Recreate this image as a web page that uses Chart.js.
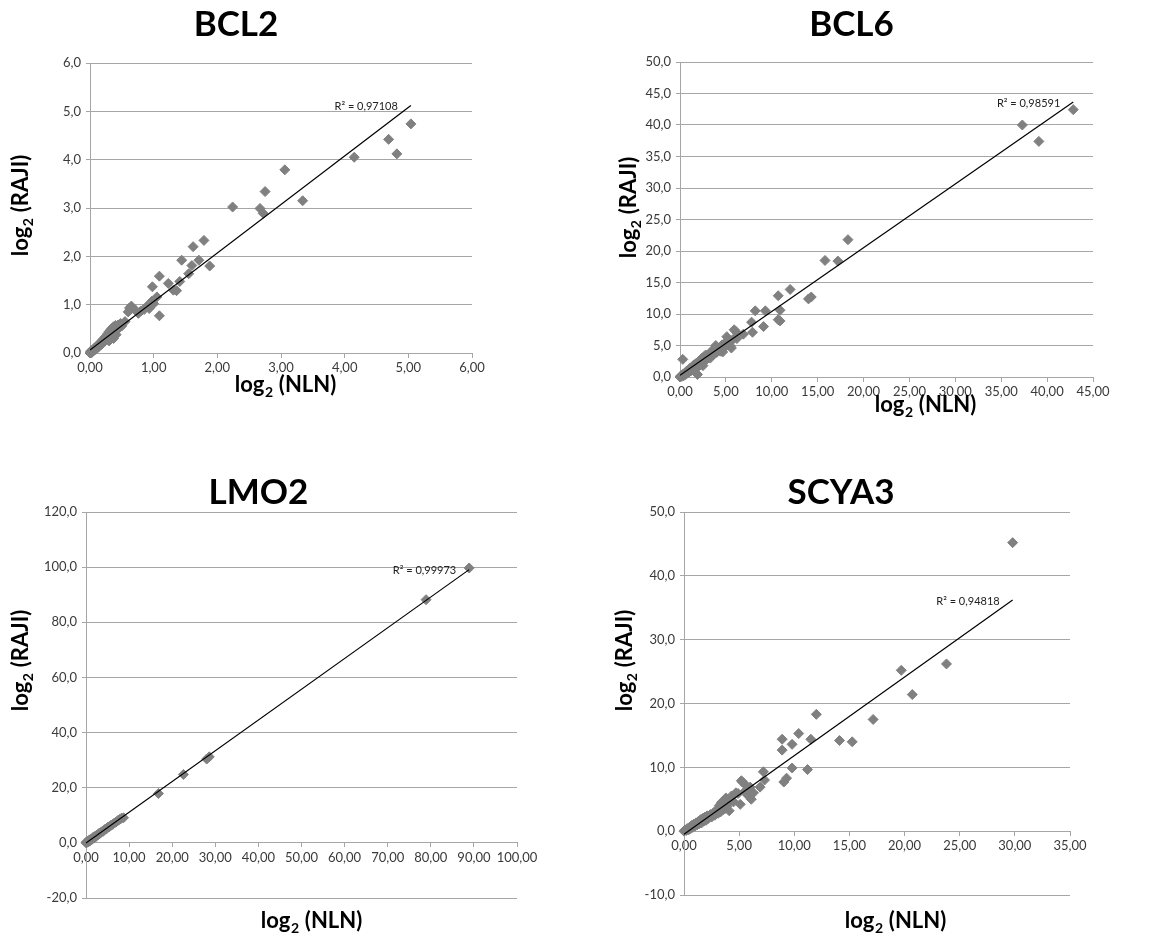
<!DOCTYPE html>
<html>
<head>
<meta charset="utf-8">
<script src="https://cdn.jsdelivr.net/npm/chart.js@4/dist/chart.umd.min.js"></script>
<style>
html,body{margin:0;padding:0;background:#fff;overflow:hidden;width:1164px;height:940px;position:relative;}
canvas{position:absolute;}
</style>
</head>
<body>
<canvas id="cBCL2"></canvas>
<canvas id="cBCL6"></canvas>
<canvas id="cLMO2"></canvas>
<canvas id="cSCYA3"></canvas>
<script>
// ---------- DATA ----------
const bcl2X = [0.00,0.01,0.02,0.02,0.03,0.04,0.05,0.06,0.07,0.08,0.09,0.10,0.11,0.12,0.13,0.14,0.15,0.16,0.17,0.18,0.19,0.20,0.21,0.22,0.23,0.24,0.25,0.26,0.27,0.28,0.29,0.30,0.31,0.32,0.33,0.34,0.35,0.36,0.37,0.38,0.39,0.40,0.42,0.44,0.46,0.48,0.50,0.30,0.34,0.41,
  0.55,0.60,0.62,0.65,0.72,0.76,0.80,0.85,0.89,0.93,0.97,0.98,1.00,1.05,1.09,1.09,1.23,1.31,1.36,1.41,1.44,1.55,1.60,1.62,1.71,1.79,1.88,2.24,2.67,2.72,2.75,3.06,3.34,4.15,4.69,4.82,5.04];
const bcl2Y = [0.00,0.03,0.00,0.05,0.02,0.06,0.04,0.09,0.06,0.11,0.08,0.13,0.10,0.16,0.12,0.19,0.15,0.21,0.17,0.24,0.19,0.27,0.22,0.30,0.24,0.33,0.27,0.36,0.29,0.40,0.32,0.44,0.35,0.47,0.38,0.50,0.41,0.53,0.30,0.55,0.44,0.57,0.48,0.58,0.52,0.61,0.56,0.25,0.32,0.38,
  0.65,0.85,0.93,0.97,0.88,0.82,0.87,0.90,0.96,0.92,1.07,1.37,1.02,1.16,1.59,0.77,1.44,1.30,1.29,1.48,1.92,1.64,1.81,2.20,1.92,2.33,1.80,3.02,2.99,2.89,3.34,3.79,3.15,4.05,4.42,4.12,4.74];
const bcl2TrendX = [0, 5.04];
const bcl2TrendY = [0.06, 5.12];
const bcl2XTicks = ['0,00','1,00','2,00','3,00','4,00','5,00','6,00'];
const bcl2YTicks = ['0,0','1,0','2,0','3,0','4,0','5,0','6,0'];

const bcl6X = [0.0,0.1,0.2,0.3,0.3,0.4,0.5,0.6,0.7,0.8,0.9,1.0,1.1,1.2,1.3,1.4,1.5,1.6,1.7,1.8,1.9,2.0,2.1,2.2,2.3,2.4,2.5,2.6,2.7,2.8,2.9,3.0,3.2,3.3,3.5,3.6,3.8,3.9,4.0,4.2,4.4,4.6,4.65,4.8,5.0,5.1,5.3,5.5,5.6,5.8,5.9,6.1,6.2,6.9,7.8,7.9,8.2,9.1,9.3,10.7,10.7,10.9,10.9,12.0,14.0,14.3,15.8,17.2,18.3,37.3,39.1,42.85];
const bcl6Y = [0.0,0.2,0.1,0.4,2.8,0.2,0.6,0.4,0.9,0.6,1.1,0.8,1.4,1.0,1.6,1.2,1.9,1.4,2.1,1.6,0.4,2.4,1.8,2.7,2.1,3.0,1.8,3.2,2.5,3.5,2.8,3.3,3.7,3.0,4.2,3.5,4.6,5.0,3.9,4.5,4.1,5.1,3.97,4.6,5.5,6.4,5.6,4.9,4.6,6.0,7.5,7.2,6.1,6.8,8.7,7.1,10.5,8.0,10.5,12.9,9.1,8.9,10.6,13.9,12.4,12.7,18.5,18.4,21.8,40.0,37.4,42.44];
const bcl6TrendX = [0, 42.85];
const bcl6TrendY = [0.27, 43.65];
const bcl6XTicks = ['0,00','5,00','10,00','15,00','20,00','25,00','30,00','35,00','40,00','45,00'];
const bcl6YTicks = ['0,0','5,0','10,0','15,0','20,0','25,0','30,0','35,0','40,0','45,0','50,0'];

const lmo2X = [0.0,0.1,0.2,0.3,0.4,0.5,0.6,0.7,0.8,0.9,1.0,1.2,1.4,1.6,1.8,2.0,2.2,2.5,2.8,3.0,3.3,3.6,4.0,4.3,4.7,5.0,5.4,5.8,6.2,6.6,7.0,7.4,7.8,8.2,8.7,16.8,22.6,28.0,28.6,78.9,88.9];
const lmo2Y = [0.0,0.3,0.1,0.5,0.3,0.7,0.5,0.9,0.6,1.1,0.9,1.4,1.3,1.9,1.7,2.3,2.1,2.8,2.9,3.4,3.5,4.0,4.2,4.8,5.0,5.6,5.8,6.4,6.7,7.2,7.6,8.1,8.5,8.9,9.1,17.9,24.8,30.4,31.2,88.2,99.7];
const lmo2TrendX = [0, 88.9];
const lmo2TrendY = [-0.03, 99.1];
const lmo2XTicks = ['0,00','10,00','20,00','30,00','40,00','50,00','60,00','70,00','80,00','90,00','100,00'];
const lmo2YTicks = ['-20,0','0,0','20,0','40,0','60,0','80,0','100,0','120,0'];

const scya3X = [0.0,0.1,0.2,0.3,0.4,0.5,0.6,0.7,0.8,0.9,1.0,1.1,1.2,1.3,1.4,1.5,1.6,1.7,1.8,1.9,2.0,2.1,2.2,2.4,2.5,2.7,2.8,3.0,3.1,3.2,3.3,3.4,3.5,3.6,3.7,3.8,3.9,4.0,4.1,4.3,4.5,4.7,4.9,5.1,5.2,5.3,5.5,5.6,5.8,6.0,6.1,6.3,6.9,7.2,7.3,8.9,8.9,9.05,9.3,9.8,9.8,10.4,11.2,11.5,12.0,14.1,15.25,17.15,19.7,20.7,23.8,29.8];
const scya3Y = [0.0,0.2,0.1,0.4,0.2,0.6,0.4,0.9,0.6,1.1,0.8,1.3,1.0,1.5,1.2,1.8,1.3,2.0,1.6,2.2,1.7,2.4,2.0,2.6,2.2,2.9,2.5,3.4,2.8,4.0,3.0,4.5,3.3,4.8,3.5,5.2,3.9,4.4,3.2,5.5,4.6,6.0,5.9,4.2,7.9,7.7,6.2,7.2,5.6,6.9,5.0,6.0,6.9,9.3,8.0,14.4,12.7,7.7,8.3,13.6,9.9,15.3,9.65,14.4,18.3,14.2,14.0,17.5,25.2,21.4,26.2,45.2];
const scya3TrendX = [0, 29.8];
const scya3TrendY = [-0.5, 36.2];
const scya3XTicks = ['0,00','5,00','10,00','15,00','20,00','25,00','30,00','35,00'];
const scya3YTicks = ['-10,0','0,0','10,0','20,0','30,0','40,0','50,0'];

const titles = ['BCL2','BCL6','LMO2','SCYA3'];
const r2Labels = ['R² = 0,97108','R² = 0,98591','R² = 0,99973','R² = 0,94818'];

// ---------- LAYOUT ----------
const panels = [
  {id:'cBCL2', title:titles[0], xs:bcl2X, ys:bcl2Y, tx:bcl2TrendX, ty:bcl2TrendY, r2:r2Labels[0], xTicks:bcl2XTicks, yTicks:bcl2YTicks,
   canvas:{left:0,top:0,w:596,h:410}, area:{l:90,t:63,r:472,b:353}, titleCY:25, yTitle:{x:21,y:206}, xTitle:{x:285,y:385}},
  {id:'cBCL6', title:titles[1], xs:bcl6X, ys:bcl6Y, tx:bcl6TrendX, ty:bcl6TrendY, r2:r2Labels[1], xTicks:bcl6XTicks, yTicks:bcl6YTicks,
   canvas:{left:610,top:0,w:546,h:420}, area:{l:680,t:62,r:1093,b:377}, titleCY:25, yTitle:{x:629,y:208}, xTitle:{x:925,y:405}},
  {id:'cLMO2', title:titles[2], xs:lmo2X, ys:lmo2Y, tx:lmo2TrendX, ty:lmo2TrendY, r2:r2Labels[2], xTicks:lmo2XTicks, yTicks:lmo2YTicks,
   canvas:{left:0,top:468,w:600,h:472}, area:{l:86,t:512,r:517,b:898}, titleCY:493, yTitle:{x:21,y:661}, xTitle:{x:311,y:921}},
  {id:'cSCYA3', title:titles[3], xs:scya3X, ys:scya3Y, tx:scya3TrendX, ty:scya3TrendY, r2:r2Labels[3], xTicks:scya3XTicks, yTicks:scya3YTicks,
   canvas:{left:612,top:468,w:576,h:472}, area:{l:684,t:512,r:1070,b:895}, titleCY:493, yTitle:{x:625,y:661}, xTitle:{x:895,y:921}}
];

const GRID = '#a6a6a6';
const TICKCOL = '#3a3a3a';
const FONT = 'Lato, "Open Sans", sans-serif';

function parseLabel(s){ return parseFloat(s.replace(',', '.')); }

function drawSubTitle(ctx, cx, cy, rot, a, sub, b) {
  ctx.save();
  ctx.translate(cx, cy);
  ctx.rotate(rot);
  const big = 'bold 22px ' + FONT, small = 'bold 14px ' + FONT;
  ctx.font = big; const wa = ctx.measureText(a).width; const wb = ctx.measureText(b).width;
  ctx.font = small; const ws = ctx.measureText(sub).width;
  let x = -(wa + ws + wb) / 2;
  const base = 7;
  ctx.textAlign = 'left'; ctx.textBaseline = 'alphabetic'; ctx.fillStyle = '#000';
  ctx.font = big; ctx.fillText(a, x, base); x += wa;
  ctx.font = small; ctx.fillText(sub, x + 0.5, base + 5); x += ws + 1;
  ctx.font = big; ctx.fillText(b, x, base);
  ctx.restore();
}

const panelText = {
  id: 'panelText',
  afterDraw(chart, args, opts) {
    const p = opts.panel;
    if (!p) return;
    const ctx = chart.ctx;
    const ox = p.canvas.left, oy = p.canvas.top;
    const meta = chart.getDatasetMeta(0);
    const last = meta.data[meta.data.length - 1];
    ctx.save();
    ctx.font = '11px ' + FONT;
    ctx.fillStyle = '#222';
    ctx.textAlign = 'right';
    ctx.textBaseline = 'middle';
    ctx.fillText(p.r2, last.x - 13, last.y + 1);
    ctx.restore();
    drawSubTitle(ctx, p.xTitle.x - ox, p.xTitle.y - oy, 0, 'log', '2', ' (NLN)');
    drawSubTitle(ctx, p.yTitle.x - ox, p.yTitle.y - oy, -Math.PI / 2, 'log', '2', ' (RAJI)');
  }
};

function makeChart(p) {
  const cv = document.getElementById(p.id);
  cv.width = p.canvas.w; cv.height = p.canvas.h;
  cv.style.left = p.canvas.left + 'px'; cv.style.top = p.canvas.top + 'px';
  cv.style.width = p.canvas.w + 'px'; cv.style.height = p.canvas.h + 'px';
  const xt = p.xTicks.map(parseLabel), yt = p.yTicks.map(parseLabel);
  const titleH = 35;
  const padTop = p.titleCY - p.canvas.top - titleH / 2;
  const padBottom = (p.area.t - p.canvas.top) - padTop - titleH;
  const tickFont = {family: FONT, size: 13};
  new Chart(cv, {
    type: 'scatter',
    data: {
      datasets: [
        {data: p.tx.map((x, i) => ({x: x, y: p.ty[i]})), showLine: true, borderColor: '#000', borderWidth: 1.2,
         pointRadius: 0, pointHoverRadius: 0, fill: false, tension: 0},
        {data: p.xs.map((x, i) => ({x: x, y: p.ys[i]})), pointStyle: 'rectRot', pointRadius: 5, pointHoverRadius: 5,
         backgroundColor: '#808080', borderColor: '#808080', borderWidth: 1, clip: false}
      ]
    },
    options: {
      responsive: false, animation: false, devicePixelRatio: 1,
      events: [],
      layout: {padding: {left: 0, top: 0,
        right: p.canvas.left + p.canvas.w - p.area.r,
        bottom: p.canvas.top + p.canvas.h - p.area.b}},
      plugins: {
        legend: {display: false},
        tooltip: {enabled: false},
        title: {display: true, text: p.title, color: '#000',
          font: {family: FONT, weight: 'bold', size: 35, lineHeight: 1},
          padding: {top: padTop, bottom: padBottom}},
        panelText: {panel: p}
      },
      scales: {
        x: {
          type: 'linear', position: {y: 0}, min: xt[0], max: xt[xt.length - 1],
          afterBuildTicks: s => { s.ticks = xt.map(v => ({value: v})); },
          ticks: {callback: (v, i) => p.xTicks[i], font: tickFont, color: TICKCOL, padding: 3,
                  maxRotation: 0, minRotation: 0, autoSkip: false},
          grid: {drawOnChartArea: false, drawTicks: true, tickLength: 4, color: GRID},
          border: {display: true, color: GRID}
        },
        y: {
          type: 'linear', position: 'left', min: yt[0], max: yt[yt.length - 1],
          afterBuildTicks: s => { s.ticks = yt.map(v => ({value: v})); },
          afterFit: s => { s.width = p.area.l - p.canvas.left; },
          ticks: {callback: (v, i) => p.yTicks[i], font: tickFont, color: TICKCOL, padding: 5, autoSkip: false},
          grid: {drawOnChartArea: true, drawTicks: true, tickLength: 4, color: GRID},
          border: {display: true, color: GRID}
        }
      }
    },
    plugins: [panelText]
  });
}

panels.forEach(makeChart);
</script>
</body>
</html>
